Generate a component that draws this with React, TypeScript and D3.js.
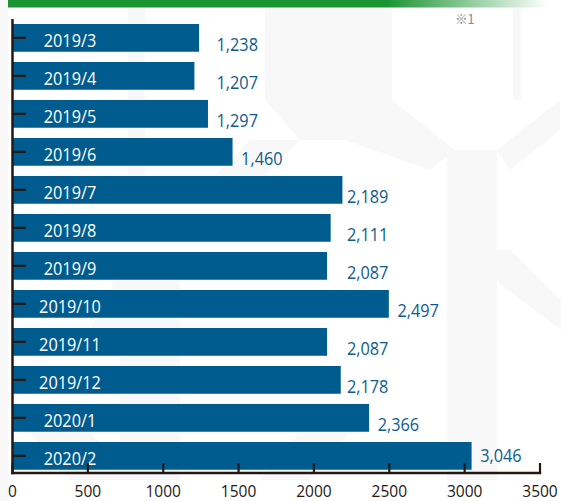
import React from "react";
import * as d3 from "d3";

const categories = [
  "2019/3", "2019/4", "2019/5", "2019/6", "2019/7", "2019/8",
  "2019/9", "2019/10", "2019/11", "2019/12", "2020/1", "2020/2",
];
const values = [1238, 1207, 1297, 1460, 2189, 2111, 2087, 2497, 2087, 2178, 2366, 3046];
const xTicks = [0, 500, 1000, 1500, 2000, 2500, 3000, 3500];
const note = "※1";

const W = 561;
const H = 501;
const BAR = "#005b8e";
const LABEL = "#0f5c8f";
const AXIS = "#231815";
const FONT = "'Open Sans', 'Noto Sans', sans-serif";

export default function App() {
  const x = d3.scaleLinear().domain([0, 3500]).range([12.5, 540]);
  const y = d3
    .scaleBand<string>()
    .domain(categories)
    .range([18.87, 474.87])
    .paddingInner(0.27)
    .paddingOuter(0.135);
  const axisY = 473;
  const fmt = d3.format(",");

  // value labels: right-aligned with close neighbours (within 120)
  const labelEnd = values.map((v) => {
    const m = d3.max(values.filter((u) => Math.abs(u - v) <= 120)) as number;
    return x(m) + 50 - (m === 2189 ? 4 : 0);
  });

  return (
    <svg
      width={W}
      height={H}
      style={{ position: "absolute", left: 0, top: 0, background: "#fff" }}
    >
      <defs>
        <linearGradient id="hdr" x1="0" x2="1" y1="0" y2="0">
          <stop offset="0%" stopColor="#1a9432" />
          <stop offset="70%" stopColor="#1a9432" />
          <stop offset="100%" stopColor="#ffffff" />
        </linearGradient>
      </defs>
      <rect x={0} y={0} width={W} height={H} fill="#ffffff" />
      {/* faint watermark shapes */}
      <g fill="#f8f8f8">
        <rect x={0} y={0} width={8} height={H} />
        <rect x={128} y={8} width={17} height={180} />
        <rect x={265} y={8} width={127} height={92} />
        <polygon points="265,100 392,100 345,140 300,140" />
        <polygon points="200,190 250,140 300,140 250,190" />
        <polygon points="345,140 392,100 455,150 430,170" />
        <rect x={447} y={150} width={50} height={330} />
        <polygon points="497,150 560,100 560,130 510,170" />
        <rect x={513} y={8} width={8} height={92} />
        <polygon points="455,250 510,250 561,300 561,330" />
        <polygon points="120,270 180,270 140,330 90,330" />
        <rect x={120} y={270} width={60} height={210} />
        <polygon points="20,420 80,420 130,480 70,480" />
        <polygon points="260,480 310,420 360,420 310,480" />
      </g>
      {/* green header bar */}
      <rect x={8} y={0} width={540} height={7.5} fill="url(#hdr)" />
      <text
        x={455}
        y={23.5}
        fontSize={12.5}
        fill="#8a8a8a"
        fontFamily="'Noto Sans CJK JP', 'Open Sans', sans-serif"
      >
        {note}
      </text>

      {/* bars */}
      {categories.map((c, i) => (
        <rect
          key={c}
          x={x(0)}
          y={y(c)}
          width={x(values[i]) - x(0)}
          height={y.bandwidth()}
          fill={BAR}
        />
      ))}

      {/* category labels inside bars */}
      {categories.map((c) => {
        const cy = (y(c) as number) + y.bandwidth() / 2;
        return (
          <text
            key={"c" + c}
            transform={`translate(70,${cy + 9}) scale(0.875,1)`}
            textAnchor="middle"
            fontSize={18.6}
            fill="#ffffff"
            fontFamily={FONT}
          >
            {c}
          </text>
        );
      })}

      {/* value labels */}
      {categories.map((c, i) => {
        const cy = (y(c) as number) + y.bandwidth() / 2;
        const base = Math.min(cy + 13.5, axisY - 11.5);
        return (
          <text
            key={"v" + c}
            transform={`translate(${labelEnd[i]},${base}) scale(0.875,1)`}
            textAnchor="end"
            fontSize={18.6}
            fill={LABEL}
            fontFamily={FONT}
          >
            {fmt(values[i])}
          </text>
        );
      })}

      {/* y axis */}
      <line x1={x(0)} x2={x(0)} y1={19} y2={axisY + 1.2} stroke={AXIS} strokeWidth={2.5} />
      {categories.map((c) => {
        const cy = (y(c) as number) + y.bandwidth() / 2;
        return (
          <line
            key={"t" + c}
            x1={x(0)}
            x2={26}
            y1={cy}
            y2={cy}
            stroke={AXIS}
            strokeWidth={2.2}
          />
        );
      })}

      {/* x axis */}
      <line x1={x(0) - 1.2} x2={x(3500) + 1.2} y1={axisY} y2={axisY} stroke={AXIS} strokeWidth={2.5} />
      {xTicks.map((t) => (
        <g key={"x" + t}>
          <line x1={x(t)} x2={x(t)} y1={axisY} y2={axisY - 10} stroke={AXIS} strokeWidth={2.2} />
          <text
            transform={`translate(${x(t)},497) scale(0.94,1)`}
            textAnchor="middle"
            fontSize={16.5}
            fill={AXIS}
            fontFamily={FONT}
          >
            {t}
          </text>
        </g>
      ))}
    </svg>
  );
}
